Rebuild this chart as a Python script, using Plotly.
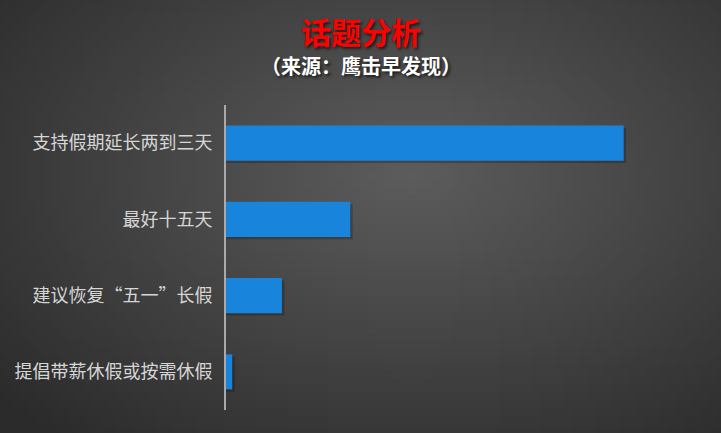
import numpy as np
import plotly.graph_objects as go

# data (share of comments, %)
topics = ["支持假期延长两到三天", "最好十五天", "建议恢复“五一”长假", "提倡带薪休假或按需休假"]
shares = [64, 20, 9, 1]

title_text = "话题分析"
subtitle_text = "（来源：鹰击早发现）"

W, H = 721, 433
BAR_BLUE = "#1884dc"

# radial grey backdrop (drawn as a heatmap on its own full-page axes)
gx = np.linspace(0, 1, 90)
gy = np.linspace(0, 1, 60)
GX, GY = np.meshgrid(gx, gy)
dist = np.sqrt(((GX - 0.57) / 0.75) ** 2 + ((GY - 0.6) / 0.8) ** 2)
shade = np.clip(1 - dist, 0, 1)

fig = go.Figure()

fig.add_trace(go.Heatmap(
    x=gx, y=gy, z=shade,
    colorscale=[[0, "#2b2b2b"], [1, "#5c5c5c"]],
    zmin=0, zmax=1, showscale=False, hoverinfo="skip",
    xaxis="x", yaxis="y",
))

# soft shadow under each bar
fig.add_trace(go.Bar(
    y=topics, x=[v + 0.4 for v in shares], orientation="h",
    width=0.46, offset=-0.2,
    marker=dict(color="rgba(0,0,0,0.22)", line=dict(width=0)),
    hoverinfo="skip", xaxis="x2", yaxis="y2",
))

fig.add_trace(go.Bar(
    y=topics, x=shares, orientation="h",
    width=0.46, offset=-0.23,
    marker=dict(color=BAR_BLUE, line=dict(width=0)),
    hovertemplate="%{y}: %{x}%<extra></extra>",
    xaxis="x2", yaxis="y2",
))

fig.update_layout(
    width=W, height=H,
    margin=dict(l=0, r=0, t=0, b=0),
    paper_bgcolor="#3a3a3a",
    plot_bgcolor="rgba(0,0,0,0)",
    showlegend=False,
    barmode="overlay",
    xaxis=dict(domain=[0, 1], range=[0, 1], visible=False, fixedrange=True),
    yaxis=dict(domain=[0, 1], range=[0, 1], visible=False, fixedrange=True),
    xaxis2=dict(domain=[226 / W, 720 / W], range=[0, 79.5], visible=False,
                anchor="y2"),
    yaxis2=dict(domain=[1 - 410 / H, 1 - 105 / H], anchor="x2",
                autorange="reversed", showline=True, linecolor="#a9a9a9",
                linewidth=2, showgrid=False, zeroline=False, ticks="",
                ticklabelstandoff=8,
                tickfont=dict(family="Noto Sans CJK SC", size=18, color="#d6d6d6")),
    annotations=[
        dict(text=f"<b>{title_text}</b>", x=0.5, y=1 - 31 / H, xref="paper", yref="paper",
             showarrow=False, xanchor="center", yanchor="middle",
             font=dict(family="Noto Sans CJK SC", size=30, color="#ff0000",
                       shadow="2px 2px 3px #1a1a1a")),
        dict(text=f"<b>{subtitle_text}</b>", x=0.5, y=1 - 66 / H, xref="paper", yref="paper",
             showarrow=False, xanchor="center", yanchor="middle",
             font=dict(family="Noto Sans CJK SC", size=20, color="#ffffff",
                       shadow="2px 2px 3px #1a1a1a")),
    ],
)

fig.write_html("out.html", config={"displayModeBar": False},
               post_script="document.body.style.margin='0';document.body.style.background='#2b2b2b';")
